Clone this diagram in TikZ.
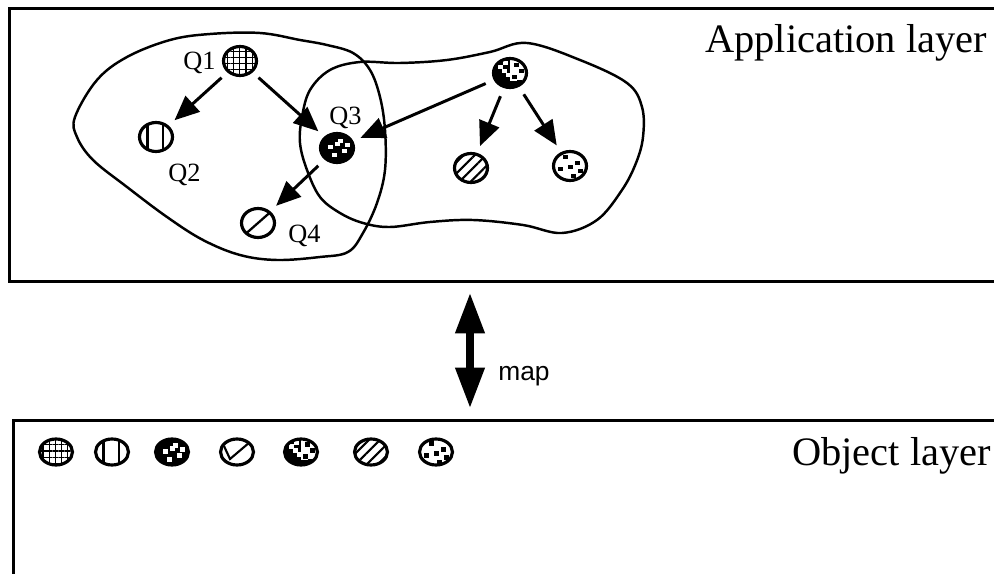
\documentclass[tikz,border=0pt]{standalone}
\usepackage{fontspec}
\setmainfont{Liberation Serif}
\setsansfont{Liberation Sans}
\usetikzlibrary{shapes.geometric,arrows.meta,patterns.meta}

% one black (or white) pixel block inside a token
\newcommand{\pix}[3]{\fill[#1] ([shift={(#2,#3)}]path picture bounding box.center) rectangle +(4.5,4.5);}

\tikzset{
  tok/.style={ellipse,draw,line width=1.8pt,inner sep=0pt,minimum width=0.66cm,minimum height=0.58cm,fill=white},
  otok/.style={tok,minimum height=0.52cm},
  blob/.style={line width=1.4pt},
  layer/.style={line width=1.7pt},
  link/.style={line width=1.7pt,-{Triangle[length=14pt,width=12pt]},shorten <=5pt,shorten >=4.5pt},
  qlab/.style={font=\fontsize{15}{18}\selectfont,inner sep=0pt,anchor=base west},
  title/.style={font=\fontsize{23}{28}\selectfont,inner sep=0pt,anchor=base west},
  % the token fillings
  gridtok/.style={pattern={Hatch[distance=3.5pt,line width=0.7pt]}},
  bartok/.style={path picture={
      \draw[line width=1.5pt] ([xshift=-5]path picture bounding box.north) -- ([xshift=-5]path picture bounding box.south);
      \draw[line width=1.5pt] ([xshift=4]path picture bounding box.north) -- ([xshift=4]path picture bounding box.south);}},
  darktok/.style={fill=black,path picture={
      \pix{white}{-9}{-3}\pix{white}{1}{-9}\pix{white}{5}{1}\pix{white}{-5}{5}\pix{white}{8}{-5}\pix{white}{-2}{-6}}},
  slashtok/.style={path picture={
      \draw[line width=1.3pt] (path picture bounding box.south west) -- (path picture bounding box.north east);}},
  ticktok/.style={path picture={
      \draw[line width=1.2pt] ([shift={(-13,-6)}]path picture bounding box.center) -- ([shift={(-7,7)}]path picture bounding box.center) -- ([shift={(13,-10)}]path picture bounding box.center);}},
  halftok/.style={fill=black,path picture={
      \fill[white] ([shift={(0,-14)}]path picture bounding box.center) rectangle +(16,22);
      \pix{black}{4}{-10}\pix{black}{9}{-4}\pix{black}{2}{2}\pix{black}{7}{7}
      \pix{white}{-12}{-8}\pix{white}{-8}{-4}\pix{white}{-7}{-12}\pix{white}{-4}{0}}},
  hatchtok/.style={pattern={Lines[angle=45,distance=4.5pt,line width=1.2pt]}},
  spottok/.style={path picture={
      \pix{black}{-7}{-11}\pix{black}{5}{-5}\pix{black}{-12}{1}\pix{black}{-2}{-1}\pix{black}{8}{3}\pix{black}{1}{8}}}
}

\begin{document}
\begin{tikzpicture}[x=0.02cm,y=-0.02cm]
  \useasboundingbox (0,0) rectangle (994,574);

  % the two layers, open to the right
  \draw[layer] (1000,8.5) -- (9.5,8.5) -- (9.5,281.5) -- (1000,281.5);
  \draw[layer] (1000,420.5) -- (13.5,420.5) -- (13.5,580);
  \node[title] (applbl) at (705,53) {Application layer};
  \node[title] (objlbl) at (792,465) {Object layer};

  % the two query groups
  \draw[blob] plot[smooth cycle,tension=0.6] coordinates {
    (75,117) (97,80) (127,57) (170,40) (210,34) (260,33) (300,40) (327,45) (353,53)
    (370,70) (380,97) (385,130) (385,170) (377,203) (363,233) (348,252) (320,257)
    (277,260) (240,255) (203,240) (167,217) (127,187) (93,160) (77,137)};
  \draw[blob] plot[smooth cycle,tension=0.6] coordinates {
    (360,62) (400,63) (447,60) (490,52) (527,43) (580,60) (627,83) (642,107)
    (643,137) (636,163) (622,190) (597,220) (562,233) (523,225) (473,220)
    (430,222) (390,227) (363,223) (340,213) (320,197) (307,170) (300,143)
    (302,117) (310,90) (330,70)};

  % application layer
  \node[tok,gridtok] (q1) at (240,61) {};
  \node[tok,bartok] (q2) at (156,137) {};
  \node[tok,darktok] (q3) at (337,148) {};
  \node[tok,slashtok] (q4) at (258,223) {};
  \node[tok,halftok] (r1) at (510,73) {};
  \node[tok,hatchtok] (r2) at (471,168) {};
  \node[tok,spottok] (r3) at (570,166) {};

  \node[qlab] at (183,70) {Q1};
  \node[qlab] at (168,182) {Q2};
  \node[qlab] at (329,125) {Q3};
  \node[qlab] at (288,243) {Q4};

  \draw[link] (q1) -- (q2);
  \draw[link] (q1) -- (q3);
  \draw[link] (r1) -- (q3);
  \draw[link] (q3) -- (q4);
  \draw[link] (r1) -- (r2);
  \draw[link] (r1) -- (r3);

  % mapping between the layers
  \coordinate (mapup) at (470,293);
  \coordinate (mapdown) at (470,408);
  \draw[line width=4pt,{Triangle[length=23pt,width=16pt]}-{Triangle[length=23pt,width=16pt]}] (mapup) -- (mapdown);
  \node[anchor=base west,inner sep=0pt,font=\sffamily\fontsize{15}{18}\selectfont] (maplbl) at (498,380) {map};

  % object layer
  \node[otok,gridtok] (o1) at (56,452) {};
  \node[otok,bartok] (o2) at (112,452) {};
  \node[otok,darktok] (o3) at (172,452) {};
  \node[otok,ticktok] (o4) at (237,452) {};
  \node[otok,halftok] (o5) at (301,452) {};
  \node[otok,hatchtok] (o6) at (371,452) {};
  \node[otok,spottok] (o7) at (436,452) {};
\end{tikzpicture}
\end{document}
